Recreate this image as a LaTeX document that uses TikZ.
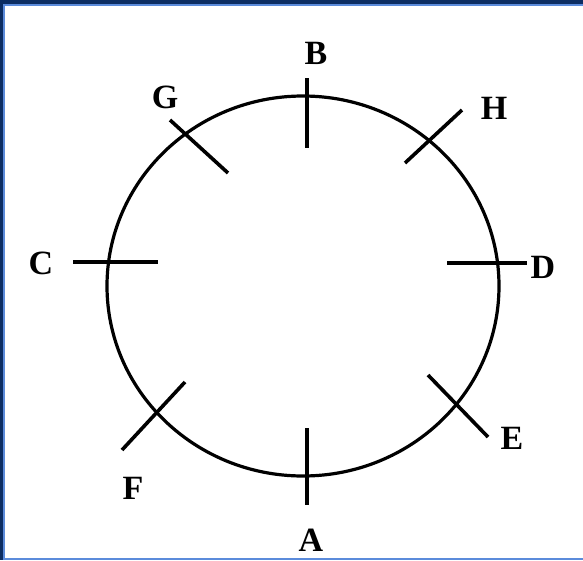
\documentclass[tikz,border=0pt]{standalone}
\usepackage{fontspec}
\setmainfont{Liberation Serif}
\usepackage{tikz}
\definecolor{frmnavy}{HTML}{0C2D62}
\definecolor{frmedge}{HTML}{5B8BDB}
\begin{document}
\begin{tikzpicture}[x=1pt,y=-1pt,
  lbl/.style={font=\bfseries\fontsize{34}{34}\selectfont,inner sep=0pt},
  cutline/.style={line width=3.6pt}]
% frame
\fill[frmnavy] (0,0) rectangle (583,560);
\fill[frmedge] (3,4) rectangle (583,559.5);
\fill[white] (5,6) rectangle (583,557.5);
\useasboundingbox (0,0) rectangle (583,560);
% ring
\draw[line width=3.2pt] (303,286) ellipse [x radius=196,y radius=190];
% cuts on the ring
\coordinate (b1) at (307,78);  \coordinate (b2) at (307,148);
\coordinate (c1) at (73,262);  \coordinate (c2) at (158,262);
\coordinate (d1) at (447,263); \coordinate (d2) at (527,263);
\coordinate (a1) at (307,428); \coordinate (a2) at (307,505);
\coordinate (g1) at (170,120); \coordinate (g2) at (228,173);
\coordinate (h1) at (405,163); \coordinate (h2) at (462,110);
\coordinate (f1) at (122,450); \coordinate (f2) at (185,382);
\coordinate (e1) at (428,375); \coordinate (e2) at (488,437);
\draw[cutline] (b1) -- (b2);
\draw[cutline] (c1) -- (c2);
\draw[cutline] (d1) -- (d2);
\draw[cutline] (a1) -- (a2);
\draw[cutline] (g1) -- (g2);
\draw[cutline] (h1) -- (h2);
\draw[cutline] (f1) -- (f2);
\draw[cutline] (e1) -- (e2);
% letters
\node[lbl] (B) at (316,53) {B};
\node[lbl] (G) at (165,97) {G};
\node[lbl] (H) at (494,108) {H};
\node[lbl] (C) at (41,263) {C};
\node[lbl] (D) at (543,267) {D};
\node[lbl] (E) at (512,438) {E};
\node[lbl] (F) at (133,488) {F};
\node[lbl] (A) at (311,540) {A};
\end{tikzpicture}
\end{document}
